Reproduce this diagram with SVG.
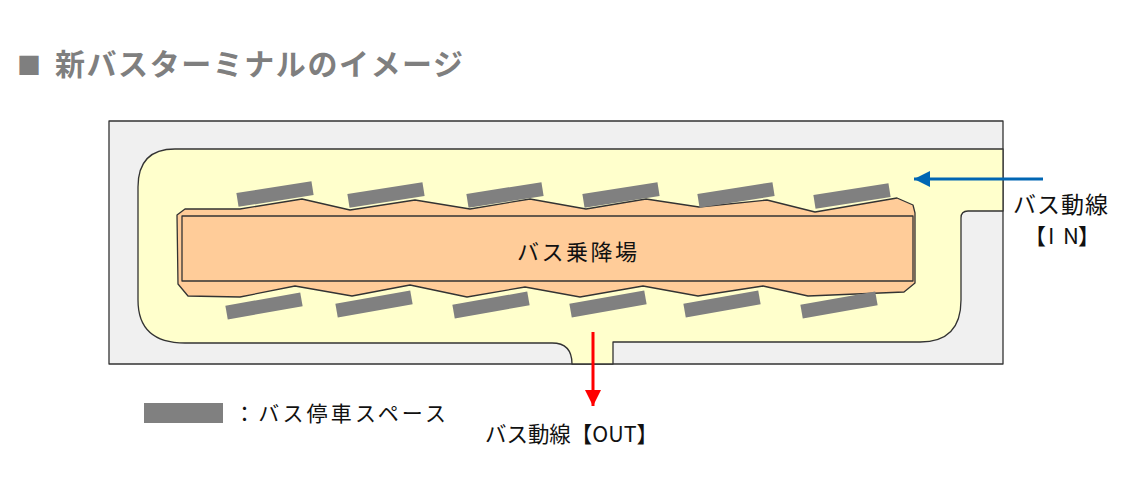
<svg xmlns="http://www.w3.org/2000/svg" width="1139" height="489" viewBox="0 0 1139 489">
<style>
.lbl{font-family:"Noto Sans CJK JP","Noto Sans",sans-serif;fill:#111}
.stall{fill:#808080}
.ln{stroke:#333;stroke-width:1.3;stroke-linejoin:round}
</style>
<defs>
<marker id="ahB" markerUnits="userSpaceOnUse" markerWidth="18" markerHeight="16" refX="16" refY="8" orient="auto">
<path d="M0,0 L16,8 L0,16 Z" fill="#0066b3"/>
</marker>
<marker id="ahR" markerUnits="userSpaceOnUse" markerWidth="18" markerHeight="16" refX="16" refY="8" orient="auto">
<path d="M0,0 L16,8 L0,16 Z" fill="#ff0000"/>
</marker>
<rect id="st" class="stall" x="-38" y="-7" width="76" height="14"/>
</defs>
<rect width="1139" height="489" fill="#ffffff"/>
<g id="title">
<text y="75" font-family="'Noto Sans CJK JP',sans-serif" font-weight="bold" fill="#7f7f7f"><tspan x="17" y="74" font-size="24">■</tspan><tspan x="55" y="75" font-size="30" textLength="408" lengthAdjust="spacing">新バスターミナルのイメージ</tspan></text>
</g>
<g id="site">
<rect x="109" y="121" width="894" height="243" fill="#f0f0f0" class="ln"/>
</g>
<g id="road">
<path class="ln" fill="#ffffcc" d="M138,187 Q138,149 175,149 L1003,149 L1003,211 L968,211 Q961,211 961,218 L961,300 Q961,342 920,342 L613,342 L613,364 L572,364 Q572,343 552,343 L185,343 Q138,343 138,300 Z"/>
</g>
<g id="platform">
<path class="ln" fill="#ffcc99" d="M185,209 L240,209 L302,199 L350,210 L415,200 L470,209 L530,199 L586,209 L646,199 L699,207 L767,200 L815,212 L897,198 L913,205 L915,213 L915,283 L904,292 L808,296 L763,286 L698,296 L643,286 L580,297 L525,287 L467,297 L410,285 L352,296 L295,286 L240,297 L188,296 L178,284 L177,215 Z"/>
<rect class="ln" x="182" y="216" width="731" height="65" fill="#ffcc99"/>
<text class="lbl" x="517" y="260" font-size="22" textLength="120" lengthAdjust="spacing">バス乗降場</text>
</g>
<g id="stalls">
<use href="#st" transform="translate(275,194) rotate(-9)"/>
<use href="#st" transform="translate(386,195) rotate(-9)"/>
<use href="#st" transform="translate(505,195) rotate(-9)"/>
<use href="#st" transform="translate(621,195) rotate(-9)"/>
<use href="#st" transform="translate(736,195) rotate(-9)"/>
<use href="#st" transform="translate(852,196) rotate(-9)"/>
<use href="#st" transform="translate(264,306) rotate(-10)"/>
<use href="#st" transform="translate(374,304) rotate(-10)"/>
<use href="#st" transform="translate(491,305) rotate(-10)"/>
<use href="#st" transform="translate(608,304) rotate(-10)"/>
<use href="#st" transform="translate(722,304) rotate(-10)"/>
<use href="#st" transform="translate(839,305) rotate(-10)"/>
</g>
<g id="connectors">
<line x1="1043" y1="179" x2="914" y2="179" stroke="#0066b3" stroke-width="3" marker-end="url(#ahB)"/>
<line x1="593" y1="332" x2="593" y2="406" stroke="#ff0000" stroke-width="3" marker-end="url(#ahR)"/>
</g>
<g id="in-label">
<text class="lbl" x="1013" y="213" font-size="23" textLength="95" lengthAdjust="spacing">バス動線</text>
<text class="lbl" y="244" font-size="22"><tspan x="1024">【</tspan><tspan x="1048">I</tspan><tspan x="1058"> N</tspan><tspan x="1078">】</tspan></text>
</g>
<g id="out-label">
<text class="lbl" x="485" y="442" font-size="22" textLength="173" lengthAdjust="spacingAndGlyphs">バス動線【OUT】</text>
</g>
<g id="legend">
<rect class="stall" x="144" y="403" width="79" height="20"/>
<text class="lbl" x="234" y="421" font-size="21" textLength="212" lengthAdjust="spacing">：バス停車スペース</text>
</g>
</svg>
